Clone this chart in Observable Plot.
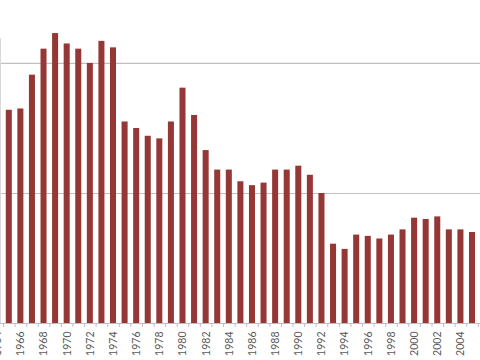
<!DOCTYPE html>
<html><head><meta charset="utf-8">
<script src="https://cdn.jsdelivr.net/npm/d3@7"></script>
<script src="https://cdn.jsdelivr.net/npm/@observablehq/plot@0.6"></script>
<style>html,body{margin:0;padding:0;background:#fff;overflow:hidden}</style>
</head><body><div id="chart"></div>
<script>
const years = [1965,1966,1967,1968,1969,1970,1971,1972,1973,1974,1975,1976,1977,1978,1979,1980,1981,1982,1983,1984,1985,1986,1987,1988,1989,1990,1991,1992,1993,1994,1995,1996,1997,1998,1999,2000,2001,2002,2003,2004,2005];
const values = [16.4,16.5,19.1,21.1,22.3,21.5,21.1,20.0,21.7,21.2,15.5,15.0,14.4,14.2,15.5,18.1,16.0,13.3,11.8,11.8,10.9,10.6,10.8,11.8,11.8,12.1,11.4,10.0,6.1,5.7,6.8,6.7,6.5,6.8,7.2,8.1,8.0,8.2,7.2,7.2,7.0];
const tickLabels = [1964,1966,1968,1970,1972,1974,1976,1978,1980,1982,1984,1986,1988,1990,1992,1994,1996,1998,2000,2002,2004];
const gridValues = [10,20];

const data = years.map((year,i)=>({year, value: values[i]}));
const boundaries = years.map(y=>y-0.5).concat([years[years.length-1]+0.5]);

const chart = Plot.plot({
  width:480, height:360, marginTop:38, marginBottom:37, marginLeft:0, marginRight:0,
  style:{fontFamily:"Lato", fontSize:"10.5px", color:"#595959", background:"#fff"},
  x:{type:"linear", domain:[1964,2005], range:[-2.8,472], label:null},
  y:{domain:[0,21.92], axis:null},
  marks:[
    Plot.ruleY(gridValues, {stroke:"#c0c0c0", strokeWidth:1.2}),
    Plot.frame({anchor:"left", stroke:"#d9d9d9"}),
    Plot.rectY(data, {x1: d=>d.year-0.26, x2: d=>d.year+0.26, y:"value", fill:"#953735"}),
    Plot.ruleY([0], {stroke:"#bfbfbf"}),
    Plot.axisX({ticks: boundaries, tickSize:4, tickFormat: () => "", stroke:"#bfbfbf", label:null}),
    Plot.axisX({ticks: tickLabels, tickSize:0, tickRotate:-90, tickPadding:8, tickFormat:d=>String(d), fill:"#595959", label:null})
  ]
});
document.getElementById("chart").appendChild(chart);
</script>
</body></html>
